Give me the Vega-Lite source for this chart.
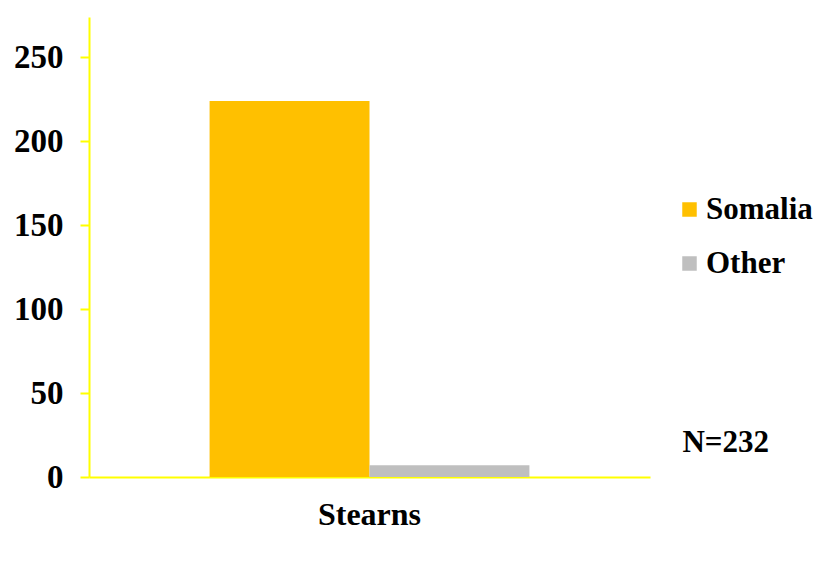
{
  "$schema": "https://vega.github.io/schema/vega-lite/v6.json",
  "autosize": "none",
  "width": 561,
  "height": 460,
  "padding": {"left": 89, "top": 17, "right": 177, "bottom": 85},
  "background": "white",
  "config": {
    "view": {"stroke": null},
    "font": "Liberation Serif"
  },
  "datasets": {
    "bars": [
      {"site": "Stearns", "origin": "Somalia", "count": 224},
      {"site": "Stearns", "origin": "Other", "count": 7}
    ],
    "note": [{"site": "Stearns", "y": 20, "label": "N=232"}]
  },
  "layer": [
    {
      "data": {"name": "bars"},
      "mark": {"type": "bar"},
      "encoding": {
        "x": {
          "field": "site", "type": "nominal",
          "scale": {"paddingInner": 0, "paddingOuter": 0.377},
          "axis": {
            "title": null, "labelAngle": 0, "ticks": false,
            "domainColor": "#FFFF00", "domainWidth": 2,
            "labelFont": "Liberation Serif", "labelFontWeight": "bold",
            "labelFontSize": 32, "labelColor": "black", "labelPadding": 22
          }
        },
        "xOffset": {"field": "origin", "sort": ["Somalia", "Other"], "scale": {"paddingInner": 0, "paddingOuter": 0}},
        "y": {
          "field": "count", "type": "quantitative",
          "scale": {"domain": [0, 274], "nice": false},
          "axis": {
            "title": null, "values": [0, 50, 100, 150, 200, 250], "grid": false,
            "domainColor": "#FFFF00", "domainWidth": 2,
            "tickColor": "#FFFF00", "tickWidth": 2, "tickSize": 9,
            "labelFont": "Liberation Serif", "labelFontWeight": "bold",
            "labelFontSize": 33, "labelColor": "black", "labelPadding": 17
          }
        },
        "color": {
          "field": "origin", "type": "nominal",
          "sort": ["Somalia", "Other"],
          "scale": {"domain": ["Somalia", "Other"], "range": ["#FFC000", "#BFBFBF"]},
          "legend": {
            "title": null, "orient": "none", "legendX": 585, "legendY": 177,
            "symbolType": "square", "symbolSize": 210, "symbolStrokeWidth": 0,
            "labelFont": "Liberation Serif", "labelFontWeight": "bold",
            "labelFontSize": 31, "labelColor": "black", "rowPadding": 22, "labelOffset": 1
          }
        }
      }
    },
    {
      "data": {"name": "note"},
      "mark": {"type": "text", "align": "left", "baseline": "middle", "dx": 153, "font": "Liberation Serif", "fontWeight": "bold", "fontSize": 31, "color": "black"},
      "encoding": {
        "x": {"field": "site", "type": "nominal", "bandPosition": 1},
        "y": {"field": "y", "type": "quantitative"},
        "text": {"field": "label"}
      }
    }
  ]
}
